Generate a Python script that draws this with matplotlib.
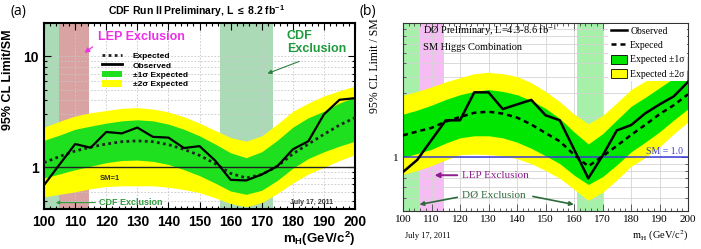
import matplotlib
matplotlib.use('Agg')
import matplotlib.pyplot as plt
from matplotlib.lines import Line2D
from matplotlib.patches import Patch
from matplotlib.ticker import MultipleLocator, NullFormatter

plt.rcParams['mathtext.fontset'] = 'custom'
plt.rcParams['mathtext.rm'] = 'Liberation Sans:bold'
plt.rcParams['mathtext.bf'] = 'Liberation Sans:bold'
plt.rcParams['mathtext.it'] = 'Liberation Sans:bold'

SANS = 'Liberation Sans'
SERIF = 'Liberation Serif'

# Higgs mass points (GeV/c^2)
mass = [100, 105, 110, 115, 120, 125, 130, 135, 140, 145, 150,
        155, 160, 165, 170, 175, 180, 185, 190, 195, 200]

# (a) CDF
cdf_obs = [0.69, 1.06, 1.62, 1.50, 2.08, 2.02, 2.28, 1.88, 1.85, 1.49, 1.55,
           1.15, 0.77, 0.76, 0.86, 1.02, 1.45, 1.72, 3.00, 4.06, 4.20]
cdf_exp = [1.10, 1.25, 1.40, 1.52, 1.62, 1.70, 1.73, 1.70, 1.60, 1.45, 1.28,
           1.08, 0.88, 0.80, 0.86, 1.02, 1.32, 1.62, 1.98, 2.40, 2.80]
cdf_p1 = [1.75, 1.95, 2.20, 2.35, 2.50, 2.62, 2.68, 2.62, 2.45, 2.20, 1.92,
          1.62, 1.35, 1.22, 1.38, 1.75, 2.30, 2.80, 3.20, 3.80, 4.30]
cdf_m1 = [0.80, 0.87, 0.95, 1.02, 1.10, 1.15, 1.16, 1.13, 1.06, 0.95, 0.84,
          0.72, 0.61, 0.57, 0.62, 0.76, 0.98, 1.20, 1.38, 1.55, 1.72]
cdf_p2 = [2.30, 2.60, 2.90, 3.10, 3.25, 3.40, 3.45, 3.35, 3.15, 2.85, 2.50,
          2.15, 1.85, 1.72, 1.92, 2.45, 3.20, 3.80, 4.40, 4.90, 5.40]
cdf_m2 = [0.54, 0.57, 0.60, 0.64, 0.67, 0.68, 0.68, 0.68, 0.66, 0.63, 0.59,
          0.53, 0.47, 0.44, 0.48, 0.58, 0.72, 0.87, 1.00, 1.15, 1.30]
cdf_excl = [(100, 104.7), (156.5, 173.7)]
cdf_lep = (100, 114.4)

# (b) D0
d0_obs = [0.78, 0.96, 1.35, 1.89, 1.89, 3.05, 3.05, 2.29, 2.48, 2.68, 2.06,
          1.89, 1.15, 0.70, 1.03, 1.59, 1.74, 2.13, 2.48, 2.85, 3.65]
d0_exp = [1.46, 1.56, 1.66, 1.85, 2.00, 2.15, 2.19, 2.12, 1.98, 1.76, 1.52,
          1.32, 1.05, 0.86, 1.02, 1.22, 1.47, 1.75, 2.10, 2.45, 2.95]
d0_p1 = [2.10, 2.25, 2.45, 2.70, 2.93, 3.10, 3.20, 3.10, 2.93, 2.65, 2.32,
         1.95, 1.55, 1.26, 1.50, 1.90, 2.40, 2.80, 3.30, 3.90, 4.50]
d0_m1 = [1.00, 1.07, 1.15, 1.28, 1.40, 1.45, 1.45, 1.40, 1.30, 1.17, 1.03,
         0.90, 0.74, 0.63, 0.72, 0.88, 1.10, 1.30, 1.55, 1.90, 2.30]
d0_p2 = [2.90, 3.10, 3.35, 3.65, 3.92, 4.20, 4.30, 4.20, 4.00, 3.60, 3.10,
         2.60, 2.10, 1.78, 2.05, 2.55, 3.20, 3.70, 4.30, 5.00, 5.70]
d0_m2 = [0.75, 0.80, 0.87, 0.96, 1.05, 1.06, 1.05, 1.03, 0.98, 0.90, 0.80,
         0.70, 0.58, 0.48, 0.55, 0.68, 0.86, 1.00, 1.20, 1.50, 1.84]
d0_excl = [(100, 105.5), (161, 170)]
d0_lep = (100, 114.4)

fig = plt.figure(figsize=(7.01, 2.49), dpi=100)

# ---------------- (a) CDF ----------------
ax = fig.add_axes([0.0628, 0.1606, 0.4437, 0.747])
ax.set_yscale('log')
ax.set_xlim(100, 200)
ax.set_ylim(0.42, 20)

ax.axvspan(*cdf_lep, color='#d9a3a3', lw=0, zorder=0.1)
for lo, hi in cdf_excl:
    ax.axvspan(lo, hi, color='#aadbb6', lw=0, zorder=0.2)

ax.fill_between(mass, cdf_m2, cdf_p2, color='#ffff00', lw=0, zorder=1)
ax.fill_between(mass, cdf_m1, cdf_p1, color='#1ee01e', lw=0, zorder=1.1)
ax.axhline(1, color='#222222', lw=1.0, zorder=2)
ax.plot(mass, cdf_exp, color='#222222', lw=2, ls=(0, (1, 1.2)), zorder=3)
ax.plot(mass, cdf_obs, color='black', lw=1.6, zorder=4)

ax.set_axisbelow(True)
ax.grid(True, which='major', axis='x', color='#c8c8c8', lw=0.6, ls=(0, (2, 2)))
ax.grid(True, which='both', axis='y', color='#c8c8c8', lw=0.6, ls=(0, (2, 2)))

ax.xaxis.set_major_locator(MultipleLocator(10))
ax.xaxis.set_minor_locator(MultipleLocator(2))
ax.set_yticks([1, 10])
ax.set_yticklabels(['1', '10'])
ax.yaxis.set_minor_formatter(NullFormatter())
ax.tick_params(which='both', direction='in', top=True, right=True, width=0.8)
ax.tick_params(which='major', length=5, labelsize=10, pad=4)
ax.tick_params(which='minor', length=2.5)
for lab in ax.get_xticklabels() + ax.get_yticklabels():
    lab.set_fontfamily(SANS)
    lab.set_fontweight('bold')
for sp in ax.spines.values():
    sp.set_linewidth(1.5)

ax.text(1.0, -0.16, r'm$_{H}$(GeV/c$^{2}$)', transform=ax.transAxes,
        ha='right', va='center', fontsize=9.5, fontfamily=SANS, fontweight='bold')

handles = [Line2D([], [], color='#222222', lw=2, ls=(0, (1, 1.2))),
           Line2D([], [], color='black', lw=2),
           Patch(facecolor='#1ee01e', edgecolor='none'),
           Patch(facecolor='#ffff00', edgecolor='none')]
labels = ['Expected', 'Observed', '\u00b11\u03c3 Expected', '\u00b12\u03c3 Expected']
leg = ax.legend(handles, labels, loc='upper left', bbox_to_anchor=(0.186, 0.845),
                frameon=False, borderpad=0, borderaxespad=0, handlelength=2.4,
                handleheight=0.9, handletextpad=1.3, labelspacing=0.12,
                prop={'family': SANS, 'weight': 'bold', 'size': 6})
leg.set_zorder(5)

ax.text(117.4, 14.9, 'LEP Exclusion', ha='left', va='center', fontsize=9,
        fontfamily=SANS, fontweight='bold', color='#ee2ee8', zorder=6)
ax.annotate('', xy=(112.3, 10.4), xytext=(116.3, 12.6),
            arrowprops=dict(arrowstyle='-|>', color='#ee2ee8', lw=0.9,
                            mutation_scale=7), zorder=6)
ax.text(178.1, 13.3, 'CDF\nExclusion', ha='left', va='center', fontsize=9,
        fontfamily=SANS, fontweight='bold', color='#1f9a3c', linespacing=1.1,
        zorder=6)
ax.annotate('', xy=(171, 6.86), xytext=(182.9, 9.2),
            arrowprops=dict(arrowstyle='-|>', color='#2f7f3f', lw=0.8,
                            mutation_scale=6), zorder=6)
ax.text(121.2, 0.79, 'SM=1', ha='center', va='center', fontsize=5.5,
        fontfamily=SANS, fontweight='bold', color='#333333', zorder=6)
ax.text(117.6, 0.48, 'CDF Exclusion', ha='left', va='center', fontsize=6.5,
        fontfamily=SANS, fontweight='bold', color='#2f9a3c', zorder=6)
ax.annotate('', xy=(102.9, 0.48), xytext=(117.4, 0.48),
            arrowprops=dict(arrowstyle='-|>', color='#2f9a3c', lw=0.8,
                            mutation_scale=5), zorder=6)
ax.text(186, 0.48, 'July 17, 2011', ha='center', va='center', fontsize=5,
        fontfamily=SANS, fontweight='bold', color='#333333', zorder=6)

fig.text(0.281, 0.956, r'CDF Run II Preliminary, L $\leq$ 8.2 fb$^{-1}$',
         ha='center', va='center', fontsize=7.5, fontfamily=SANS, fontweight='bold')
fig.text(0.012, 0.679, '95% CL Limit/SM', rotation=90, ha='center', va='center',
         fontsize=9, fontfamily=SANS, fontweight='bold')
fig.text(0.027, 0.952, '(a)', ha='center', va='center', fontsize=10,
         fontfamily='Open Sans')

# ---------------- (b) D0 ----------------
bx = fig.add_axes([0.5749, 0.1526, 0.4066, 0.755])
bx.set_yscale('log')
bx.set_xlim(100, 200)
bx.set_ylim(0.4, 10)

bx.axvspan(*d0_lep, color='#f6bdf4', lw=0, zorder=0.1)
for lo, hi in d0_excl:
    bx.axvspan(lo, hi, color='#a6f0aa', lw=0, zorder=0.2)

bx.fill_between(mass, d0_m2, d0_p2, color='#ffff00', lw=0, zorder=1)
bx.fill_between(mass, d0_m1, d0_p1, color='#00e600', lw=0, zorder=1.1)
bx.axhline(1, color='#3a3ad6', lw=1.1, zorder=2)
bx.plot(mass, d0_exp, color='black', lw=1.8, ls=(0, (2, 1.6)), zorder=3)
bx.plot(mass, d0_obs, color='black', lw=1.8, zorder=4)

bx.set_axisbelow(True)
bx.grid(True, which='major', axis='x', color='#d4d4d4', lw=0.6)
bx.grid(True, which='both', axis='y', color='#d4d4d4', lw=0.6)

bx.xaxis.set_major_locator(MultipleLocator(10))
bx.xaxis.set_minor_locator(MultipleLocator(2))
bx.set_yticks([1, 10])
bx.set_yticklabels(['1', ''])
bx.yaxis.set_minor_formatter(NullFormatter())
bx.tick_params(which='both', direction='in', top=True, right=True, width=0.6,
               color='#444444')
bx.tick_params(which='major', length=5, labelsize=8, pad=3)
bx.tick_params(which='minor', length=2.5)
for lab in bx.get_xticklabels() + bx.get_yticklabels():
    lab.set_fontfamily(SERIF)
for sp in bx.spines.values():
    sp.set_linewidth(0.8)
    sp.set_color('#333333')

bx.text(1.0, -0.133, r'm$_{\rm H}$ (GeV/c$^{2}$)', transform=bx.transAxes,
        ha='right', va='center', fontsize=7.5, fontfamily=SERIF,
        math_fontfamily='stix')
bx.text(0.007, -0.133, 'July 17, 2011', transform=bx.transAxes, ha='left',
        va='center', fontsize=6, fontfamily=SERIF)

handles = [Line2D([], [], color='black', lw=1.8),
           Line2D([], [], color='black', lw=1.8, ls=(0, (2, 1.6))),
           Patch(facecolor='#00e600', edgecolor='black', lw=0.6),
           Patch(facecolor='#ffff00', edgecolor='black', lw=0.6)]
labels = ['Observed', 'Expeced', 'Expected \u00b11\u03c3', 'Expected \u00b12\u03c3']
leg = bx.legend(handles, labels, loc='upper right', bbox_to_anchor=(1.0, 1.0),
                frameon=True, facecolor='white', edgecolor='none', framealpha=1,
                fancybox=False, borderpad=0.25, borderaxespad=0.1,
                handlelength=1.7, handleheight=1.1, handletextpad=0.3,
                labelspacing=0.42, prop={'family': SERIF, 'size': 7})
leg.set_zorder(5)

bx.text(107.0, 8.85, r'DØ Preliminary, L=4.3-8.6 fb$^{-1}$', ha='left',
        va='center', fontsize=7.5, fontfamily=SERIF, math_fontfamily='stix',
        zorder=6)
bx.text(107.0, 6.53, 'SM Higgs Combination', ha='left', va='center',
        fontsize=7.5, fontfamily=SERIF, zorder=6)
bx.text(198.2, 1.02, 'SM = 1.0', ha='right', va='bottom', fontsize=7,
        fontfamily=SERIF, color='#3a3ad6', zorder=6)
bx.text(120.6, 0.738, 'LEP Exclusion', ha='left', va='center', fontsize=8,
        fontfamily=SERIF, color='#8e1e8e', zorder=6)
bx.annotate('', xy=(110.1, 0.738), xytext=(120.0, 0.738),
            arrowprops=dict(arrowstyle='-|>', color='#8e1e8e', lw=1.4,
                            mutation_scale=7), zorder=6)
bx.text(120.6, 0.52, 'DØ Exclusion', ha='left', va='center', fontsize=8,
        fontfamily=SERIF, color='#2e6b3a', zorder=6)
bx.annotate('', xy=(104.8, 0.443), xytext=(120.0, 0.51),
            arrowprops=dict(arrowstyle='-|>', color='#2e6b3a', lw=1.2,
                            mutation_scale=6), zorder=6)
bx.annotate('', xy=(160.9, 0.443), xytext=(144.6, 0.518),
            arrowprops=dict(arrowstyle='-|>', color='#2e6b3a', lw=1.2,
                            mutation_scale=6), zorder=6)

fig.text(0.535, 0.735, '95% CL Limit / SM', rotation=90, ha='center',
         va='center', fontsize=8.5, fontfamily=SERIF)
fig.text(0.524, 0.952, '(b)', ha='center', va='center', fontsize=10,
         fontfamily='Open Sans')

fig.savefig('out.png', dpi=100)
